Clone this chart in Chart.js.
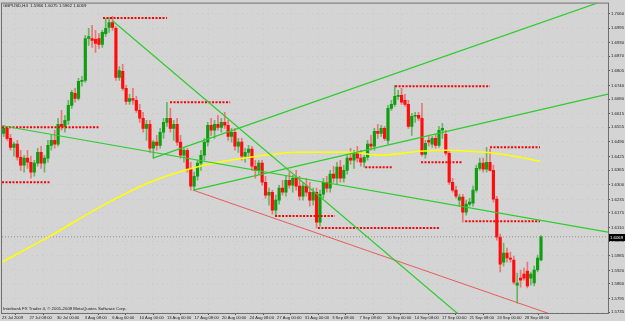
<!DOCTYPE html>
<html>
<head>
<meta charset="utf-8">
<script src="https://cdn.jsdelivr.net/npm/chart.js@4.4.1/dist/chart.umd.min.js"></script>
<style>
  html, body { margin: 0; padding: 0; background: #d4d4d4; overflow: hidden; }
  canvas { display: block; }
</style>
</head>
<body>
<canvas id="chart" width="625" height="321"></canvas>
<script>
// GBPUSD H4, 23 Jul - 28 Sep 2009
const open = [
  1.6528,1.6550,1.6506,1.6466,1.6480,1.6422,1.6387,1.6418,1.6400,1.6356,
  1.6396,1.6444,1.6396,1.6418,1.6475,1.6497,1.6480,1.6568,1.6559,1.6586,
  1.6652,1.6706,1.6683,1.6759,1.6763,1.6949,1.6949,1.6945,1.6949,1.6923,
  1.6971,1.6998,1.7020,1.6994,1.6776,1.6803,1.6728,1.6670,1.6683,1.6675,
  1.6630,1.6595,1.6550,1.6568,1.6462,1.6489,1.6475,1.6533,1.6577,1.6595,
  1.6550,1.6568,1.6489,1.6431,1.6453,1.6373,1.6294,1.6338,1.6396,1.6431,
  1.6489,1.6564,1.6542,1.6568,1.6555,1.6577,1.6564,1.6515,1.6533,1.6471,
  1.6489,1.6427,1.6444,1.6458,1.6382,1.6364,1.6396,1.6311,1.6254,1.6267,
  1.6187,1.6232,1.6285,1.6267,1.6320,1.6298,1.6329,1.6294,1.6249,1.6294,
  1.6267,1.6232,1.6267,1.6134,1.6258,1.6311,1.6285,1.6347,1.6329,1.6378,
  1.6329,1.6364,1.6418,1.6409,1.6440,1.6418,1.6400,1.6422,1.6480,1.6471,
  1.6537,1.6528,1.6550,1.6497,1.6639,1.6657,1.6692,1.6697,1.6675,1.6657,
  1.6559,1.6604,1.6608,1.6595,1.6435,1.6497,1.6480,1.6506,1.6475,1.6542,
  1.6524,1.6440,1.6311,1.6276,1.6232,1.6245,1.6178,1.6214,1.6218,1.6276,
  1.6373,1.6396,1.6369,1.6400,1.6364,1.6236,1.6068,1.5957,1.5997,1.5975,
  1.5966,1.5855,1.5886,1.5904,1.5917,1.5886,1.5864,1.5922,1.5966
];
const high = [
  1.6564,1.6559,1.6524,1.6489,1.6497,1.6453,1.6431,1.6453,1.6427,1.6409,
  1.6462,1.6471,1.6431,1.6497,1.6519,1.6542,1.6595,1.6630,1.6608,1.6675,
  1.6719,1.6728,1.6772,1.6781,1.6963,1.6994,1.7007,1.6985,1.6971,1.6985,
  1.7038,1.7042,1.7047,1.7002,1.6825,1.6834,1.6741,1.6701,1.6728,1.6692,
  1.6657,1.6621,1.6586,1.6586,1.6497,1.6519,1.6550,1.6595,1.6666,1.6639,
  1.6586,1.6595,1.6519,1.6462,1.6462,1.6400,1.6356,1.6409,1.6453,1.6506,
  1.6577,1.6595,1.6586,1.6608,1.6595,1.6621,1.6586,1.6550,1.6550,1.6506,
  1.6506,1.6462,1.6475,1.6471,1.6409,1.6409,1.6409,1.6338,1.6285,1.6276,
  1.6254,1.6298,1.6320,1.6338,1.6356,1.6342,1.6364,1.6338,1.6311,1.6329,
  1.6311,1.6285,1.6285,1.6276,1.6329,1.6338,1.6364,1.6382,1.6400,1.6409,
  1.6387,1.6431,1.6462,1.6453,1.6471,1.6453,1.6431,1.6497,1.6519,1.6550,
  1.6568,1.6564,1.6559,1.6652,1.6675,1.6741,1.6719,1.6728,1.6701,1.6675,
  1.6617,1.6621,1.6621,1.6661,1.6497,1.6515,1.6515,1.6524,1.6559,1.6573,
  1.6542,1.6453,1.6329,1.6294,1.6258,1.6258,1.6232,1.6240,1.6294,1.6387,
  1.6418,1.6418,1.6466,1.6458,1.6387,1.6249,1.6081,1.6041,1.6019,1.6001,
  1.5984,1.5908,1.5922,1.5930,1.5957,1.5913,1.5939,1.5988,1.6075
];
const low = [
  1.6515,1.6497,1.6453,1.6427,1.6409,1.6364,1.6356,1.6373,1.6329,1.6338,
  1.6382,1.6373,1.6356,1.6400,1.6453,1.6462,1.6471,1.6542,1.6533,1.6568,
  1.6639,1.6666,1.6675,1.6737,1.6754,1.6918,1.6909,1.6887,1.6905,1.6909,
  1.6958,1.6976,1.6985,1.6763,1.6763,1.6719,1.6657,1.6657,1.6657,1.6621,
  1.6577,1.6533,1.6497,1.6444,1.6418,1.6453,1.6462,1.6506,1.6559,1.6533,
  1.6497,1.6475,1.6418,1.6400,1.6356,1.6276,1.6276,1.6320,1.6364,1.6409,
  1.6471,1.6519,1.6506,1.6542,1.6533,1.6550,1.6497,1.6489,1.6453,1.6444,
  1.6409,1.6400,1.6418,1.6364,1.6329,1.6347,1.6298,1.6240,1.6209,1.6170,
  1.6161,1.6214,1.6254,1.6249,1.6285,1.6267,1.6276,1.6232,1.6232,1.6249,
  1.6205,1.6209,1.6108,1.6116,1.6240,1.6267,1.6267,1.6311,1.6302,1.6311,
  1.6311,1.6347,1.6391,1.6373,1.6400,1.6382,1.6378,1.6409,1.6453,1.6453,
  1.6506,1.6515,1.6497,1.6480,1.6630,1.6648,1.6679,1.6657,1.6648,1.6550,
  1.6519,1.6577,1.6586,1.6427,1.6418,1.6471,1.6466,1.6462,1.6466,1.6506,
  1.6431,1.6302,1.6267,1.6240,1.6205,1.6134,1.6165,1.6205,1.6205,1.6267,
  1.6364,1.6356,1.6356,1.6360,1.6223,1.6054,1.5913,1.5939,1.5957,1.5957,
  1.5859,1.5775,1.5846,1.5877,1.5842,1.5855,1.5851,1.5913,1.5962
];
const close = [
  1.6550,1.6506,1.6466,1.6480,1.6422,1.6387,1.6418,1.6400,1.6356,1.6396,
  1.6444,1.6396,1.6418,1.6475,1.6497,1.6480,1.6568,1.6559,1.6586,1.6652,
  1.6710,1.6683,1.6759,1.6763,1.6949,1.6958,1.6940,1.6927,1.6923,1.6976,
  1.6994,1.7020,1.6998,1.6776,1.6807,1.6728,1.6670,1.6683,1.6675,1.6630,
  1.6595,1.6550,1.6568,1.6462,1.6489,1.6475,1.6533,1.6577,1.6595,1.6550,
  1.6568,1.6489,1.6431,1.6453,1.6373,1.6294,1.6338,1.6396,1.6431,1.6489,
  1.6564,1.6542,1.6568,1.6555,1.6577,1.6564,1.6515,1.6533,1.6471,1.6489,
  1.6427,1.6444,1.6458,1.6382,1.6364,1.6396,1.6311,1.6254,1.6267,1.6187,
  1.6232,1.6285,1.6267,1.6320,1.6298,1.6329,1.6294,1.6249,1.6294,1.6267,
  1.6232,1.6267,1.6134,1.6258,1.6311,1.6285,1.6347,1.6329,1.6378,1.6329,
  1.6364,1.6418,1.6409,1.6440,1.6418,1.6400,1.6422,1.6480,1.6471,1.6537,
  1.6528,1.6550,1.6506,1.6639,1.6657,1.6692,1.6697,1.6666,1.6657,1.6559,
  1.6604,1.6608,1.6595,1.6435,1.6484,1.6489,1.6506,1.6475,1.6542,1.6550,
  1.6440,1.6311,1.6276,1.6249,1.6245,1.6178,1.6214,1.6223,1.6276,1.6373,
  1.6396,1.6369,1.6400,1.6364,1.6236,1.6068,1.5948,1.5997,1.5975,1.5970,
  1.5868,1.5864,1.5877,1.5886,1.5851,1.5904,1.5922,1.5975,1.6069
];

// moving average (yellow), sampled at bar indexes
const maIdx = [-0.5, 13.6, 28.3, 43.0, 57.7, 72.4, 87.1, 101.9, 110.7, 122.4, 130.4, 137.1, 144.5, 151.9, 157.7];
const maVal = [1.5957, 1.6072, 1.6201, 1.6311, 1.6382, 1.6422, 1.6444, 1.6444, 1.6431, 1.6449, 1.6453, 1.6449, 1.6440, 1.6422, 1.6404];

// trend lines: [barFrom, priceFrom, barTo, priceTo]
const greenLines = [
  [-0.5, 1.6562, 177.7, 1.6090],
  [31.9, 1.7029, 140.0, 1.5645],
  [55.7, 1.6276, 177.7, 1.6702],
  [43.9, 1.6418, 177.7, 1.7123]
];
const redLine = [55.7, 1.6276, 165.0, 1.5704];

// dotted support / resistance levels
const levelFrom  = [-0.5, -0.5, 29.2, 48.9, 79.8, 92.4, 106.3, 115.1, 122.7, 135.7, 143.0];
const levelTo    = [28.3, 13.6, 48.0, 66.6, 97.4, 128.3, 114.5, 143.0, 134.8, 157.7, 157.7];
const levelPrice = [1.6555, 1.6311, 1.7040, 1.6666, 1.6161, 1.6108, 1.6378, 1.6737, 1.6400, 1.6138, 1.6466];

const bid = 1.6069;

const yTicks = [1.7060,1.6995,1.6930,1.6870,1.6805,1.6740,1.6680,1.6615,1.6555,1.6490,1.6425,
                1.6365,1.6300,1.6235,1.6175,1.6110,1.6050,1.5985,1.5920,1.5860,1.5795,1.5735];
const xTickIdx = [-0.5, 7.6, 15.7, 23.8, 31.9, 39.9, 48.0, 56.1, 64.2, 72.3,
                  80.4, 88.5, 96.6, 104.6, 112.7, 120.8, 128.9, 137.0, 145.1, 153.2];
const xLabels = ["23 Jul 2009","27 Jul 08:00","30 Jul 00:00","3 Aug 08:00","6 Aug 00:00","10 Aug 00:00",
                 "13 Aug 00:00","17 Aug 08:00","20 Aug 00:00","24 Aug 08:00","27 Aug 00:00","31 Aug 00:00",
                 "3 Sep 08:00","7 Sep 08:00","10 Sep 00:00","14 Sep 08:00","17 Sep 00:00","21 Sep 08:00",
                 "24 Sep 00:00","28 Sep 08:00"];

const title = "GBPUSD,H4  1.5966 1.6075 1.5962 1.6069";
const footer = "Interbank FX Trader 4, \u00a9 2001-2009 MetaQuotes Software Corp.";

const UP = "#0f9e0f", DOWN = "#ff0c0c";
const FONT = '"Liberation Sans", Arial, sans-serif';

const up = close.map((c, i) => c >= open[i]);
const wicks = high.map((h, i) => ({ x: i, y: [low[i], h] }));
const bodies = open.map((o, i) => ({ x: i, y: [Math.min(o, close[i]), Math.max(o, close[i])] }));

const lineSet = (pts, color, width, dash, order) => ({
  type: "line", data: pts, borderColor: color, borderWidth: width, borderDash: dash || [],
  pointRadius: 0, tension: 0, order: order ?? 0, fill: false
});

const datasets = [
  { type: "bar", data: wicks, grouped: false, barThickness: 1, order: 3,
    backgroundColor: up.map(u => u ? "rgba(30,160,30,0.6)" : "rgba(255,40,40,0.55)") },
  { type: "bar", data: bodies, grouped: false, barThickness: 2.5, minBarLength: 1, order: 2,
    backgroundColor: up.map(u => u ? UP : DOWN) },
  { type: "line", data: maIdx.map((x, i) => ({ x, y: maVal[i] })), borderColor: "#ffff00",
    borderWidth: 1.6, pointRadius: 0, cubicInterpolationMode: "monotone", order: 1, fill: false },
  lineSet([{ x: -0.5, y: bid }, { x: 177.7, y: bid }], "#8e8e8e", 1, [1, 2], 1)
];
greenLines.forEach(l => datasets.push(lineSet([{ x: l[0], y: l[1] }, { x: l[2], y: l[3] }], "#2ccc2c", 1.2, null, 0)));
datasets.push(lineSet([{ x: redLine[0], y: redLine[1] }, { x: redLine[2], y: redLine[3] }], "rgba(235,70,70,0.85)", 1, null, 0));
levelPrice.forEach((p, i) => datasets.push(
  lineSet([{ x: levelFrom[i], y: p }, { x: levelTo[i], y: p }], "#ff0000", 2, [2, 1.5], 0)));

const overlay = {
  id: "overlay",
  beforeDraw(chart) {
    const { ctx } = chart;
    ctx.save();
    ctx.fillStyle = "#d4d4d4";
    ctx.fillRect(0, 0, chart.width, chart.height);
    ctx.restore();
  },
  afterDraw(chart) {
    const { ctx, chartArea: a, scales: { y } } = chart;
    ctx.save();
    ctx.strokeStyle = "#707070";
    ctx.lineWidth = 1;
    ctx.strokeRect(a.left - 0.5, a.top - 0.5, a.right - a.left + 1, a.bottom - a.top + 1);
    ctx.font = "4.3px " + FONT;
    ctx.textBaseline = "middle";
    ctx.fillStyle = "#1a1a1a";
    ctx.fillText(title, 3, 6);
    ctx.fillText(footer, 3, 308.5);
    const py = Math.round(y.getPixelForValue(bid));
    ctx.fillStyle = "#000";
    ctx.fillRect(a.right + 1, py - 3, 16, 7);
    ctx.fillStyle = "#fff";
    ctx.fillText(bid.toFixed(4), a.right + 2, py + 0.5);
    ctx.restore();
  }
};

new Chart(document.getElementById("chart"), {
  type: "bar",
  data: { datasets },
  plugins: [overlay],
  options: {
    responsive: false,
    animation: false,
    devicePixelRatio: 1,
    layout: { padding: { top: 3, left: 2, right: 0, bottom: 0 } },
    plugins: { legend: { display: false }, tooltip: { enabled: false } },
    scales: {
      x: {
        type: "linear", min: -0.5, max: 177.7, offset: false, bounds: "data",
        afterBuildTicks: s => { s.ticks = xTickIdx.map(v => ({ value: v })); },
        afterFit: s => { s.height = 8; },
        grid: { color: "rgba(120,165,120,0.18)", drawTicks: true, tickLength: 2, tickColor: "#555" },
        border: { display: false, dash: [1, 4] },
        ticks: { autoSkip: false, maxRotation: 0, align: "start", padding: 0, color: "#222",
                 font: { size: 4.1, family: FONT }, callback: (v, i) => xLabels[i] }
      },
      y: {
        position: "right", min: 1.5731, max: 1.7104, bounds: "data",
        afterBuildTicks: s => { s.ticks = yTicks.map(v => ({ value: v })); },
        afterFit: s => { s.width = 17; },
        grid: { color: "rgba(120,165,120,0.18)", drawTicks: true, tickLength: 2, tickColor: "#555" },
        border: { display: false, dash: [1, 4] },
        ticks: { padding: 1, color: "#222", font: { size: 4.3, family: FONT },
                 callback: v => Number(v).toFixed(4) }
      }
    }
  }
});
</script>
</body>
</html>
